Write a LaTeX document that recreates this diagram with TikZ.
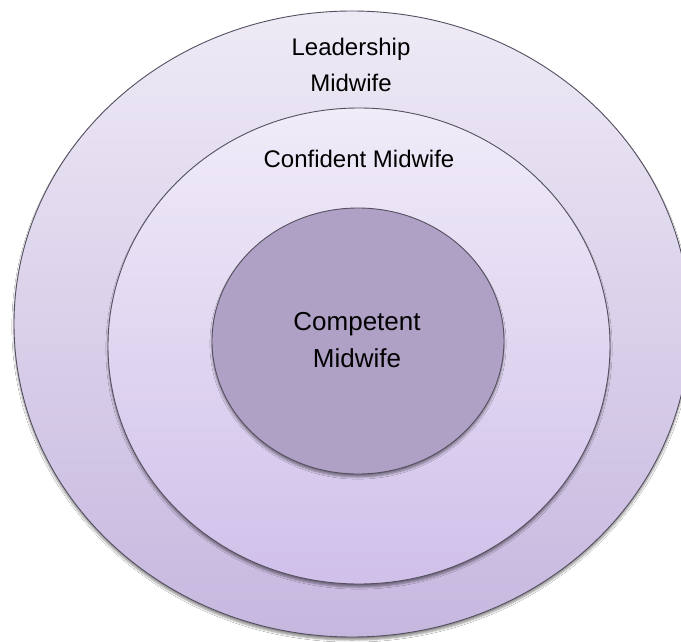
\documentclass[tikz,border=0pt]{standalone}
\usepackage{fontspec}
\setmainfont{Liberation Sans}
\usetikzlibrary{shapes.geometric,shadows.blur}
\definecolor{outerTop}{HTML}{EEEAF5}
\definecolor{outerBot}{HTML}{C6B7DF}
\definecolor{midTop}{HTML}{F0ECF8}
\definecolor{midBot}{HTML}{D0C0EA}
\definecolor{innerFill}{HTML}{AFA0C5}
\definecolor{ringLine}{HTML}{555060}
\tikzset{
  ring/.style={ellipse, inner sep=0pt, draw=ringLine, line width=0.9pt,
    blur shadow={shadow xshift=0pt, shadow yshift=-3pt, shadow blur steps=6, shadow opacity=45}},
  lbl/.style={inner sep=0pt, align=center, text=black, font=\fontsize{24}{36}\selectfont}
}
\begin{document}
\begin{tikzpicture}[x=1pt,y=-1pt]
\useasboundingbox (0,0) rectangle (681,642);
\clip (0,0) rectangle (681,642);
\fill[white] (0,0) rectangle (681,642);
\node[ring, minimum width=676pt, minimum height=626pt, top color=outerTop, bottom color=outerBot] (outer) at (352,324) {};
\node[ring, minimum width=502pt, minimum height=476pt, top color=midTop, bottom color=midBot] (middle) at (359,346) {};
\node[ring, minimum width=292pt, minimum height=266pt, fill=innerFill] (inner) at (358,341) {};
\node[lbl] (tlead) at (351,65) {Leadership\\Midwife};
\node[lbl] (tconf) at (359,159) {Confident Midwife};
\node[lbl, font=\fontsize{26}{37}\selectfont] (tcomp) at (357,340) {Competent\\Midwife};
\end{tikzpicture}
\end{document}
